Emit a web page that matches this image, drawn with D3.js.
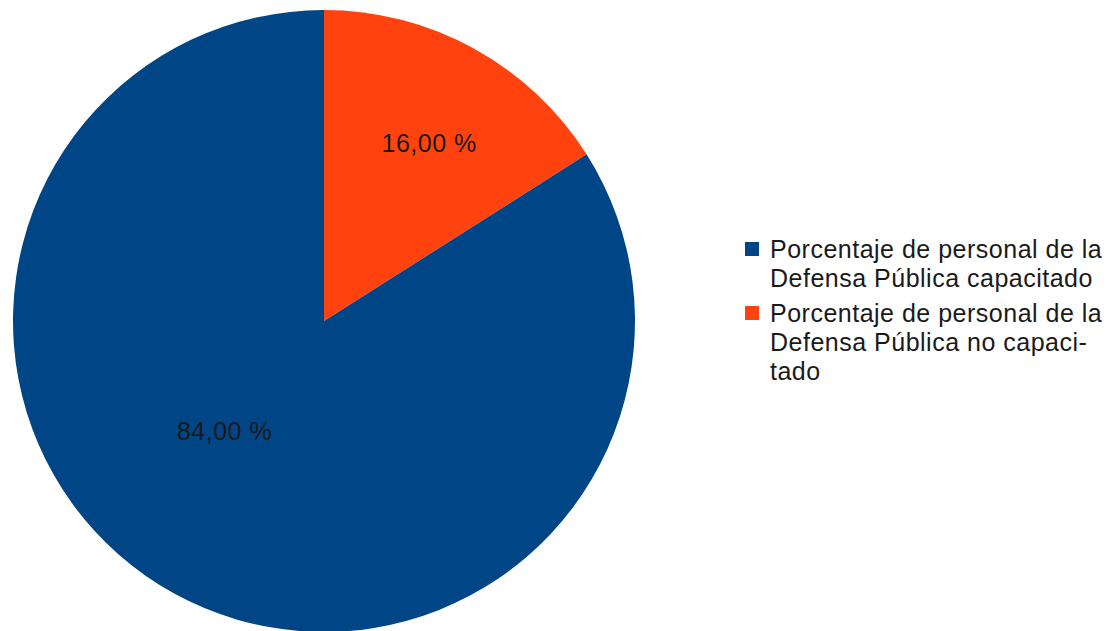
<!doctype html>
<html>
  <head>
    <meta charset="utf-8">
    <script src="https://d3js.org/d3.v7.min.js"></script>
    <style>
      body { margin: 0; background: #fff; }
    </style>
  </head>
  <body>
    <script>
    // data
    var categories = [
      "Porcentaje de personal de la Defensa Pública no capacitado",
      "Porcentaje de personal de la Defensa Pública capacitado"
    ];
    var values = [16, 84];
    var legendOrder = [1, 0];
    var legendLines = [
      ["Porcentaje de personal de la", "Defensa Pública no capaci-", "tado"],
      ["Porcentaje de personal de la", "Defensa Pública capacitado"]
    ];
    var colors = ["#ff420e", "#004586"];

    var width = 1120;
    var height = 631;
    var cx = 324, cy = 321, radius = 311;

    var svg = d3.select("body")
              .append("svg")
              .attr("width", width)
              .attr("height", height);

    var g = svg.append("g")
              .attr("transform", "translate(" + cx + "," + cy + ")");

    var pie = d3.pie().sort(null).value(function(d) { return d; });
    var arcs = pie(values);

    var arc = d3.arc().innerRadius(0).outerRadius(radius);

    g.selectAll("path")
      .data(arcs)
      .enter()
      .append("path")
      .attr("d", arc)
      .attr("fill", function(d, i) { return colors[i]; });

    // labels: small slice out along the bisector, large slice nearer the centre
    var labelArc = d3.arc().innerRadius(0);
    g.selectAll("text.lbl")
      .data(arcs)
      .enter()
      .append("text")
      .attr("class", "lbl")
      .attr("transform", function(d, i) {
        var r = i === 0 ? radius * 1.35 : radius * 0.98;
        var c = labelArc.outerRadius(r).centroid(d);
        if (i === 0) { c[0] += 4; c[1] += 6; }
        if (i === 1) { c[0] -= 26; c[1] -= 23; }
        return "translate(" + c[0] + "," + c[1] + ")";
      })
      .attr("text-anchor", "middle")
      .attr("dy", "0.35em")
      .attr("font-family", "Liberation Sans, Arial, sans-serif")
      .style("font-size", "25px")
      .style("letter-spacing", "0.5px")
      .attr("fill", "#1a1a1a")
      .text(function(d) { return d3.format(".2f")(d.value).replace(".", ",") + " %"; });

    // legend
    var legend = svg.append("g").attr("transform", "translate(745,0)");
    var y = 258;
    var lh = 29;
    legendOrder.forEach(function(idx) {
      legend.append("rect")
        .attr("x", 0)
        .attr("y", y - 16)
        .attr("width", 14)
        .attr("height", 14)
        .attr("fill", colors[idx]);
      var t = legend.append("text")
        .attr("x", 25)
        .attr("y", y)
        .attr("font-family", "Liberation Sans, Arial, sans-serif")
        .style("font-size", "25px")
        .style("letter-spacing", "0.5px")
        .attr("fill", "#1a1a1a");
      legendLines[idx].forEach(function(line, j) {
        t.append("tspan")
          .attr("x", 25)
          .attr("y", y + j * lh)
          .text(line);
      });
      y += legendLines[idx].length * lh + 6;
    });
    </script>
  </body>
</html>
